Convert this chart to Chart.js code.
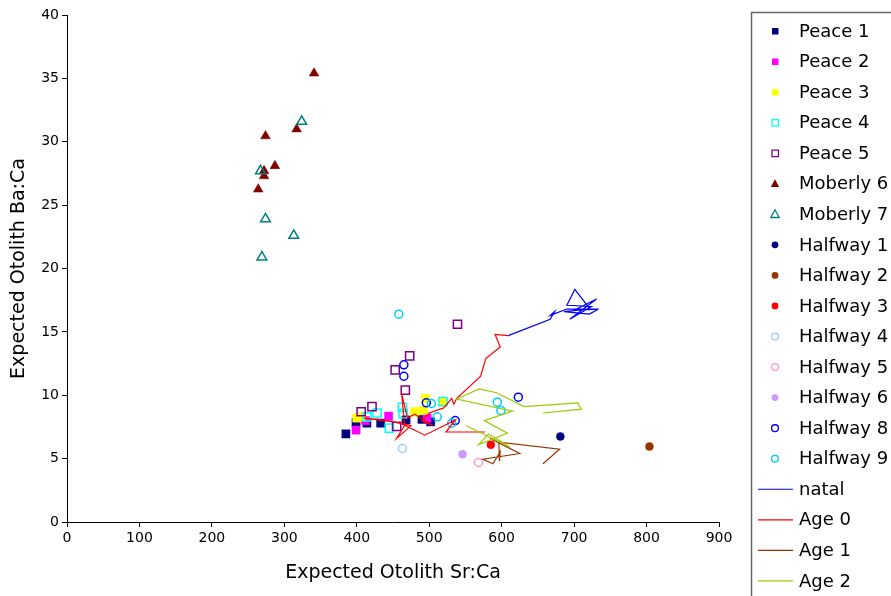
<!DOCTYPE html>
<html>
<head>
<meta charset="utf-8">
<script src="https://cdn.jsdelivr.net/npm/chart.js"></script>
<style>
  html, body { margin: 0; padding: 0; background: #fff; overflow: hidden; }
</style>
</head>
<body>
<canvas id="otolithChart" width="891" height="596"></canvas>
<script>
// axis ticks
var xTicks = [0, 100, 200, 300, 400, 500, 600, 700, 800, 900];
var yTicks = [0, 5, 10, 15, 20, 25, 30, 35, 40];

// [Sr:Ca, Ba:Ca] pairs
var peace1 = [[385, 6.95], [399, 7.85], [414, 7.8], [433, 7.8], [468, 8.05], [490, 8.1], [502, 7.9]];
var peace2 = [[399, 7.25], [412, 8.0], [444, 8.35], [497, 8.2]];
var peace3 = [[400, 8.2], [406, 8.3], [480, 8.7], [492, 8.8], [495, 9.75], [519, 9.5]];
var peace4 = [[414, 8.3], [428, 8.6], [445, 7.4], [463, 9.05], [464, 8.55], [519, 9.5]];
var peace5 = [[539, 15.6], [473, 13.1], [453, 12.0], [467, 10.4], [421, 9.1], [406, 8.7], [455, 7.55]];
var moberly6 = [[341, 35.4], [317, 31.0], [274, 30.45], [287, 28.1], [272, 27.7], [272, 27.3], [264, 26.25]];
var moberly7 = [[324, 31.6], [267, 27.7], [274, 23.9], [313, 22.6], [269, 20.9]];
var halfway1 = [[681, 6.75]];
var halfway2 = [[804, 5.95]];
var halfway3 = [[585, 6.1]];
var halfway4 = [[463, 5.8]];
var halfway5 = [[568, 4.7]];
var halfway6 = [[546, 5.35]];
var halfway8 = [[465, 12.4], [465, 11.5], [496, 9.4], [536, 8.0], [623, 9.85]];
var halfway9 = [[458, 16.4], [503, 9.35], [511, 8.3], [531, 7.8], [594, 9.45], [599, 8.8]];

var natal = [[609, 14.7], [667, 16.0], [673, 16.6], [667, 16.3], [690, 16.8], [734, 16.8], [700, 16.7],
             [731, 17.6], [694, 16.0], [724, 17.0], [690, 17.1], [701, 18.35], [722, 16.8], [686, 16.6],
             [721, 16.4], [734, 16.8]];
var age0 = [[609, 14.7], [591, 14.8], [598, 13.8], [578, 12.9], [571, 11.5], [538, 9.75], [534, 9.3],
            [531, 9.75], [520, 9.0], [500, 8.6], [490, 8.0], [505, 7.6], [480, 8.5], [470, 8.2],
            [462, 10.1], [466, 7.6], [455, 6.6], [475, 7.6], [450, 7.9], [410, 8.2], [430, 8.1],
            [460, 7.8], [494, 6.85], [536, 8.05], [523, 7.1], [577, 7.1]];
var age1 = [[584, 6.6], [625, 5.4], [574, 4.95], [588, 4.6], [598, 5.55], [597, 4.8], [596, 6.3],
            [680, 5.75], [657, 4.6]];
var age2 = [[657, 8.6], [710, 8.9], [705, 9.4], [631, 9.1], [593, 10.2], [569, 10.5], [538, 9.7],
            [615, 8.75], [576, 8.0], [608, 7.0], [568, 6.1], [582, 6.95], [612, 5.9], [551, 7.6]];

function pts(arr) {
    return arr.map(function(p) { return {x: p[0], y: p[1]}; });
}

function markers(label, data, style, color, filled) {
    return {
        label: label,
        data: pts(data),
        pointStyle: style,
        pointRadius: style === 'rect' ? 5.8 : (style === 'triangle' ? 5.6 : 4.0),
        pointHoverRadius: 5,
        backgroundColor: filled ? color : 'rgba(0,0,0,0)',
        borderColor: color,
        pointBorderWidth: filled ? 0.5 : 1.5,
        showLine: false,
        filled: filled
    };
}

function line(label, data, color) {
    return {
        label: label,
        data: pts(data),
        showLine: true,
        borderColor: color,
        backgroundColor: color,
        borderWidth: 1.2,
        pointRadius: 0,
        tension: 0,
        fill: false
    };
}

var datasets = [
    markers('Peace 1', peace1, 'rect', '#000080', true),
    markers('Peace 2', peace2, 'rect', '#FF00FF', true),
    markers('Peace 3', peace3, 'rect', '#FFFF00', true),
    markers('Peace 4', peace4, 'rect', '#00FFFF', false),
    markers('Peace 5', peace5, 'rect', '#800080', false),
    markers('Moberly 6', moberly6, 'triangle', '#800000', true),
    markers('Moberly 7', moberly7, 'triangle', '#008080', false),
    markers('Halfway 1', halfway1, 'circle', '#000080', true),
    markers('Halfway 2', halfway2, 'circle', '#993300', true),
    markers('Halfway 3', halfway3, 'circle', '#FF0000', true),
    markers('Halfway 4', halfway4, 'circle', '#99CCFF', false),
    markers('Halfway 5', halfway5, 'circle', '#FF99CC', false),
    markers('Halfway 6', halfway6, 'circle', '#CC99FF', true),
    markers('Halfway 8', halfway8, 'circle', '#0000FF', false),
    markers('Halfway 9', halfway9, 'circle', '#00CCFF', false),
    line('natal', natal, '#0000FF'),
    line('Age 0', age0, '#FF0000'),
    line('Age 1', age1, '#993300'),
    line('Age 2', age2, '#99CC00')
];
// later series sit on top, like the original
datasets.forEach(function(d, i) { d.order = datasets.length - i; });

var FONT = "'DejaVu Sans', Verdana, sans-serif";

// legend box drawn by hand (it runs off the right and bottom edges)
var sideLegend = {
    id: 'sideLegend',
    afterDraw: function(chart) {
        var ctx = chart.ctx;
        ctx.save();
        ctx.strokeStyle = '#666';
        ctx.lineWidth = 1.5;
        ctx.strokeRect(751.5, 12.5, 300, 700);
        ctx.font = '18px ' + FONT;
        ctx.textBaseline = 'middle';
        ctx.fillStyle = '#000';
        chart.data.datasets.forEach(function(d, i) {
            var y = 31 + i * 30.55;
            var cx = 775;
            if (d.showLine) {
                ctx.strokeStyle = d.borderColor;
                ctx.lineWidth = 1.2;
                ctx.beginPath();
                ctx.moveTo(758, y);
                ctx.lineTo(793, y);
                ctx.stroke();
            } else {
                ctx.beginPath();
                if (d.pointStyle === 'rect') {
                    ctx.rect(cx - 3, y - 3, 6.5, 6.5);
                } else if (d.pointStyle === 'triangle') {
                    ctx.moveTo(cx, y - 4.5);
                    ctx.lineTo(cx + 4.2, y + 3.2);
                    ctx.lineTo(cx - 4.2, y + 3.2);
                    ctx.closePath();
                } else {
                    ctx.arc(cx, y, 3.4, 0, Math.PI * 2);
                }
                if (d.filled) {
                    ctx.fillStyle = d.borderColor;
                    ctx.fill();
                } else {
                    ctx.strokeStyle = d.borderColor;
                    ctx.lineWidth = 1.3;
                    ctx.stroke();
                }
            }
            ctx.fillStyle = '#000';
            ctx.fillText(d.label, 799, y + 1);
        });
        ctx.restore();
    }
};

var ctx = document.getElementById('otolithChart').getContext('2d');
var otolithChart = new Chart(ctx, {
    type: 'scatter',
    data: { datasets: datasets },
    options: {
        responsive: false,
        animation: false,
        layout: { padding: { left: 0, top: 15, right: 172, bottom: 0 } },
        plugins: {
            legend: { display: false },
            tooltip: { enabled: false }
        },
        scales: {
            x: {
                type: 'linear',
                min: 0,
                max: 900,
                afterBuildTicks: function(s) { s.ticks = xTicks.map(function(v) { return {value: v}; }); },
                afterFit: function(s) { s.height = 74; },
                grid: { drawOnChartArea: false, tickLength: 5, color: '#000' },
                border: { color: '#000', width: 1 },
                ticks: { color: '#000', font: { family: FONT, size: 14 }, padding: 3, maxRotation: 0 },
                title: {
                    display: true,
                    text: 'Expected Otolith Sr:Ca',
                    color: '#000',
                    font: { family: FONT, size: 19 },
                    padding: { top: 0, bottom: 12 }
                }
            },
            y: {
                type: 'linear',
                min: 0,
                max: 40,
                afterBuildTicks: function(s) { s.ticks = yTicks.map(function(v) { return {value: v}; }); },
                afterFit: function(s) { s.width = 67; },
                grid: { drawOnChartArea: false, tickLength: 5, color: '#000' },
                border: { color: '#000', width: 1 },
                ticks: { color: '#000', font: { family: FONT, size: 14 }, padding: 3 },
                title: {
                    display: true,
                    text: 'Expected Otolith Ba:Ca',
                    color: '#000',
                    font: { family: FONT, size: 19 },
                    padding: { top: 8, bottom: 0 }
                }
            }
        }
    },
    plugins: [sideLegend]
});
</script>
</body>
</html>
